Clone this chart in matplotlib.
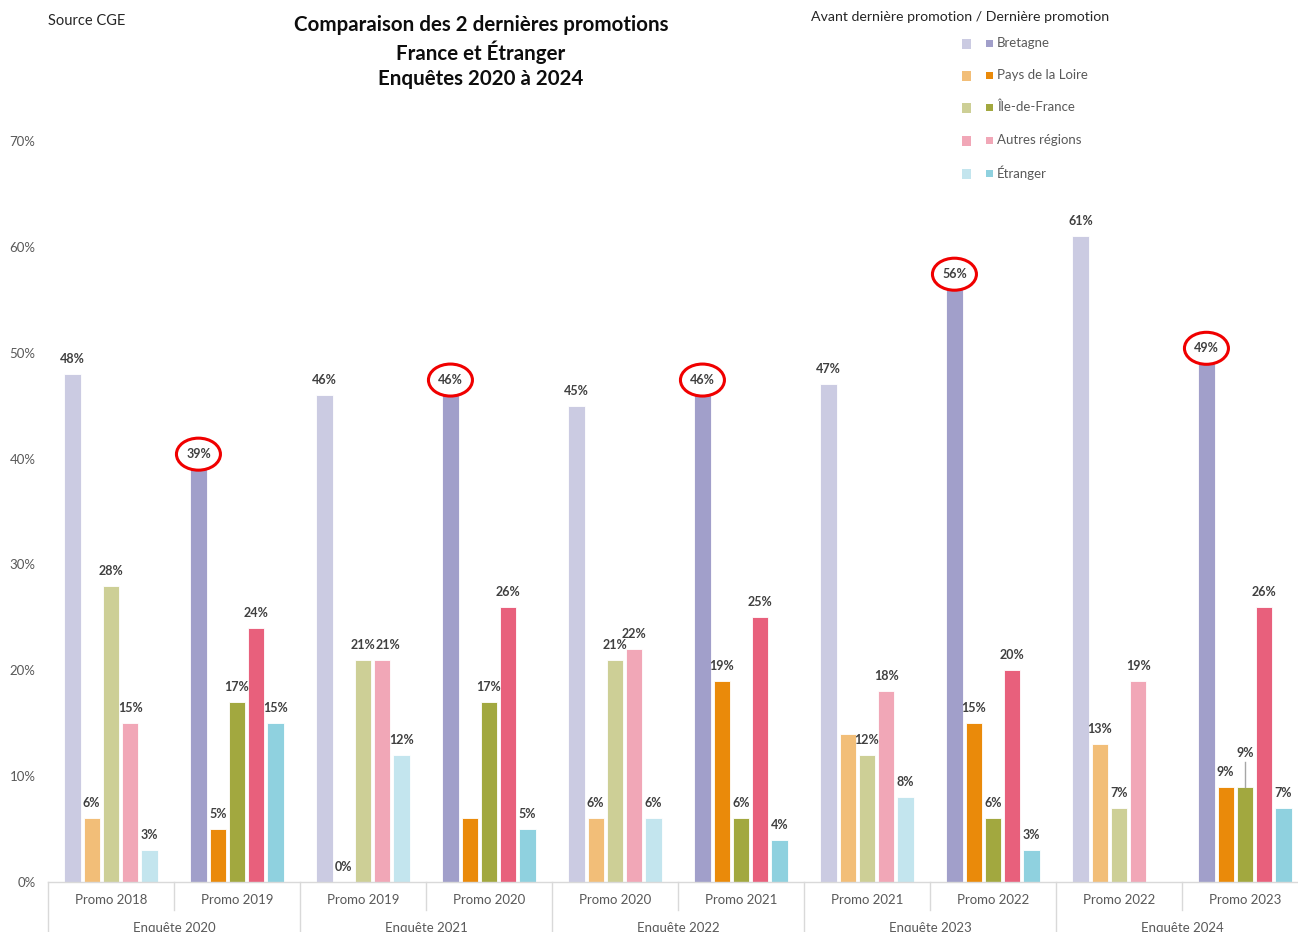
import matplotlib
matplotlib.use("Agg")
import matplotlib.pyplot as plt
from matplotlib.patches import Ellipse, Rectangle
from matplotlib.transforms import blended_transform_factory, offset_copy, IdentityTransform
import numpy as np

plt.rcParams['font.family'] = ['Lato', 'DejaVu Sans']

# ---------------- data ----------------
promos = ["Promo 2018", "Promo 2019", "Promo 2019", "Promo 2020", "Promo 2020",
          "Promo 2021", "Promo 2021", "Promo 2022", "Promo 2022", "Promo 2023"]
enquetes = ["Enquête 2020", "Enquête 2021", "Enquête 2022", "Enquête 2023", "Enquête 2024"]
regions = ["Bretagne", "Pays de la Loire", "Île-de-France", "Autres régions", "Étranger"]

bretagne = [48, 39, 46, 46, 45, 46, 47, 56, 61, 49]
pays_loire = [6, 5, 0, 6, 6, 19, 14, 15, 13, 9]
ile_de_france = [28, 17, 21, 17, 21, 6, 12, 6, 7, 9]
autres = [15, 24, 21, 26, 22, 25, 18, 20, 19, 26]
etranger = [3, 15, 12, 5, 6, 4, 8, 3, 0, 7]

# labels hidden in the original: (group index, region index)
hidden_labels = [(3, 1), (6, 1), (8, 4)]

# ---------------- styles ----------------
light_colors = ["#CBCBE2", "#F2BE78", "#CDCF96", "#F1A7B7", "#C3E5EE"]
dark_colors = ["#A19FCA", "#EA8A0A", "#A2A83F", "#E8607C", "#8FD1DF"]
legend_dark = ["#A19FCA", "#EA8A0A", "#A2A83F", "#F1A7B7", "#8FD1DF"]

W, H = 1298, 932
fig = plt.figure(figsize=(W / 100, H / 100), dpi=100)
left_px, right_px, zero_px, top_px = 48, 1308, 882, 141
ax = fig.add_axes([left_px / W, (H - zero_px) / H, (right_px - left_px) / W, (zero_px - top_px) / H])

series = [bretagne, pays_loire, ile_de_france, autres, etranger]
n = len(promos)
x = np.arange(n)
step = 0.153
width = 0.128

ax.set_xlim(-0.5, n - 0.5)
ax.set_ylim(0, 70)

label_dx = {(2, 3): 6}

for r, vals in enumerate(series):
    for g in range(n):
        col = light_colors[r] if g % 2 == 0 else dark_colors[r]
        xpos = x[g] + (r - 2) * step
        v = vals[g]
        if v > 0:
            ax.bar(xpos, v, width=width, color=col, edgecolor="white", linewidth=0.6, zorder=2)
        if (g, r) in hidden_labels:
            continue
        dx = label_dx.get((g, r), 0)
        dy = 15
        if g == 9 and r == 2:
            dy = 34
            ax.plot([xpos, xpos], [v, v + 2.3], color="#A6A6A6", lw=1, zorder=3)
        trans = offset_copy(ax.transData, fig=fig, x=dx, y=dy, units='dots')
        ax.text(xpos, v, f"{v}%", transform=trans, ha="center", va="center",
                fontsize=9, fontweight="bold", color="#404040", zorder=6)
        if r == 0 and g % 2 == 1:
            px, py = trans.transform((xpos, v))
            e = Ellipse((px, py), 44, 32, transform=IdentityTransform(), facecolor="white",
                        edgecolor="#F00000", linewidth=2.2, zorder=5, clip_on=False)
            ax.add_artist(e)

ax.set_yticks(np.arange(0, 71, 10))
ax.set_yticklabels([f"{v}%" for v in range(0, 71, 10)])
ax.tick_params(axis='y', length=0, labelsize=9.5, labelcolor="#595959", pad=9)
ax.set_xticks([])
for s in ["left", "right", "top"]:
    ax.spines[s].set_visible(False)
ax.spines["bottom"].set_color("#D9D9D9")
ax.spines["bottom"].set_linewidth(1)

bt = blended_transform_factory(ax.transData, ax.transAxes)
ah = zero_px - top_px
short_y = -(910 - zero_px) / ah
long_y = -(H + 5 - zero_px) / ah
for b in range(n + 1):
    xb = b - 0.5
    yend = long_y if b % 2 == 0 else short_y
    ax.plot([xb, xb], [0, yend], transform=bt, color="#D9D9D9", lw=1, clip_on=False)
for g in range(n):
    ax.text(x[g], -(900 - zero_px) / ah, promos[g], transform=bt, ha="center", va="center",
            fontsize=9.5, color="#595959")
for k, name in enumerate(enquetes):
    ax.text(2 * k + 0.5, -(928 - zero_px) / ah, name, transform=bt, ha="center", va="center",
            fontsize=9.5, color="#595959")

# titles
fig.text(48 / W, 1 - 21 / H, "Source CGE", ha="left", va="center", fontsize=10.5, color="#262626")
for i, line in enumerate(["Comparaison des 2 dernières promotions", "France et Étranger", "Enquêtes 2020 à 2024"]):
    fig.text(481 / W, 1 - (25 + 27 * i) / H, line, ha="center", va="center",
             fontsize=14.8, fontweight="bold", color="#0D0D0D")

# legend
fig.text(811 / W, 1 - 17 / H, "Avant dernière promotion / Dernière promotion", ha="left", va="center",
         fontsize=10.2, color="#262626")
rows = [43, 75, 107, 140, 173]
for r, name in enumerate(regions):
    yc = rows[r]
    fig.patches.append(Rectangle((962 / W, 1 - (yc + 1 + 5) / H), 9 / W, 10 / H,
                                 transform=fig.transFigure, facecolor=light_colors[r], edgecolor="none"))
    fig.patches.append(Rectangle((986 / W, 1 - (yc + 3.5) / H), 7 / W, 7 / H,
                                 transform=fig.transFigure, facecolor=legend_dark[r], edgecolor="none"))
    fig.text(997 / W, 1 - yc / H, name, ha="left", va="center", fontsize=9.5, color="#595959")

fig.savefig("out.png", dpi=100, facecolor="white")
